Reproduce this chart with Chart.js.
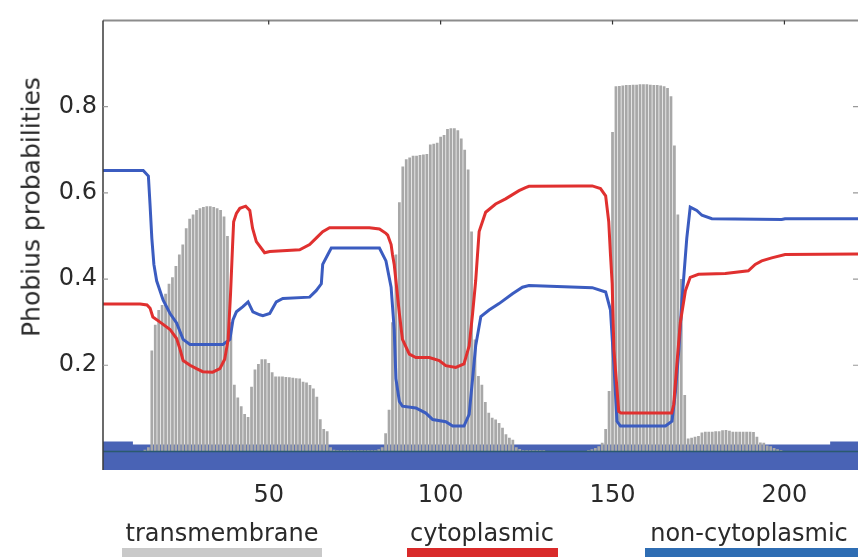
<!DOCTYPE html>
<html>
<head>
<meta charset="utf-8">
<script src="https://cdn.jsdelivr.net/npm/chart.js@4.4.1/dist/chart.umd.min.js"></script>
<style>
  html, body { margin: 0; padding: 0; background: #fff; }
  #wrap { position: relative; width: 858px; height: 557px; overflow: hidden;
          font-family: "DejaVu Sans", sans-serif; color: #2a2a2a; }
  canvas { position: absolute; left: 0; top: 0; }
  .ytitle { position: absolute; left: 31px; top: 207px; font-size: 25px; white-space: nowrap;
            transform: translate(-50%, -50%) rotate(-90deg); }
  .leg { position: absolute; top: 521px; font-size: 24px; line-height: 24px; white-space: nowrap;
         transform: translateX(-50%); }
  .legbar { position: absolute; top: 548px; height: 9px; }
</style>
</head>
<body>
<div id="wrap">
  <canvas id="phobiusChart" width="858" height="557"></canvas>
  <div class="ytitle">Phobius probabilities</div>
  <div class="leg" style="left:222px">transmembrane</div>
  <div class="legbar" style="left:122px;width:200px;background:#c9c9c9"></div>
  <div class="leg" style="left:482px">cytoplasmic</div>
  <div class="legbar" style="left:407px;width:151px;background:#d92a2a"></div>
  <div class="leg" style="left:749px">non-cytoplasmic</div>
  <div class="legbar" style="left:645px;width:213px;background:#2e6db3"></div>
</div>
<script>
// residue range shown (picture is cropped on the right)
const xMin = 1.8;
const xMax = 221.4;
const xTicks = [50, 100, 150, 200];
const yTicks = [0.2, 0.4, 0.6, 0.8];

// transmembrane probability per residue, starting at residue 1
const tmProb = [
  0, 0, 0, 0, 0, 0, 0, 0, 0, 0,
  0, 0, 0, 0.004, 0.01, 0.234, 0.294, 0.328, 0.34, 0.366,
  0.389, 0.404, 0.43, 0.457, 0.48, 0.518, 0.54, 0.55, 0.56, 0.564,
  0.567, 0.569, 0.569, 0.567, 0.564, 0.56, 0.545, 0.5, 0.3, 0.155,
  0.125, 0.105, 0.087, 0.08, 0.15, 0.19, 0.203, 0.214, 0.214, 0.205,
  0.184, 0.174, 0.174, 0.174, 0.173, 0.172, 0.171, 0.17, 0.169, 0.162,
  0.16, 0.154, 0.146, 0.127, 0.075, 0.052, 0.047, 0.01, 0.004, 0.003,
  0.003, 0.003, 0.003, 0.003, 0.003, 0.003, 0.003, 0.003, 0.003, 0.003,
  0.003, 0.005, 0.01, 0.042, 0.097, 0.3, 0.457, 0.578, 0.661, 0.678,
  0.682, 0.686, 0.686, 0.688, 0.689, 0.69, 0.712, 0.714, 0.716, 0.73,
  0.734, 0.748, 0.75, 0.75, 0.745, 0.726, 0.7, 0.654, 0.51, 0.26,
  0.175, 0.155, 0.115, 0.09, 0.078, 0.074, 0.066, 0.055, 0.04, 0.032,
  0.027, 0.01, 0.006, 0.003, 0.003, 0.003, 0.003, 0.003, 0.003, 0.003,
  0, 0, 0, 0, 0, 0, 0, 0, 0, 0,
  0, 0, 0.003, 0.005, 0.008, 0.012, 0.02, 0.052, 0.14, 0.741,
  0.847, 0.848, 0.849, 0.85, 0.85, 0.851, 0.851, 0.852, 0.852, 0.852,
  0.851, 0.85, 0.85, 0.849, 0.847, 0.843, 0.824, 0.71, 0.55, 0.4,
  0.131, 0.03, 0.032, 0.034, 0.036, 0.044, 0.046, 0.046, 0.046, 0.047,
  0.047, 0.049, 0.05, 0.048, 0.046, 0.046, 0.046, 0.046, 0.046, 0.046,
  0.045, 0.034, 0.021, 0.02, 0.014, 0.012, 0.008, 0.005, 0.003, 0,
  0, 0, 0, 0, 0, 0, 0, 0, 0, 0,
  0, 0, 0, 0, 0, 0, 0, 0, 0, 0, 0
];

// cytoplasmic (red) curve
const cytoX = [1.8, 12.6, 14.6, 15.5, 16.3, 18.4, 21.3, 23.2, 24.2, 25.1, 27.1, 29.0, 30.8, 33.7, 35.8, 37.2,
  38.2, 38.9, 39.5, 39.8, 40.6, 41.6, 43.3, 44.5, 45.3, 46.4, 48.8, 50.3, 59.0, 61.9, 63.8, 65.7, 67.7,
  79.3, 82.2, 84.1, 84.6, 85.6, 86.0, 86.5, 87.0, 88.0, 88.9, 90.9, 92.8, 96.7, 99.6, 101.5, 104.4,
  106.8, 108.3, 109.3, 110.2, 111.2, 113.1, 116.0, 118.9, 122.8, 124.7, 125.7, 140.2, 144.1, 146.5,
  148.0, 148.9, 149.4, 149.9, 150.4, 151.8, 152.5, 167.2, 167.8, 168.7, 169.7, 171.2, 172.6, 175.0,
  182.8, 189.5, 191.5, 193.4, 196.3, 200.2, 221.4];
const cytoY = [0.342, 0.342, 0.34, 0.332, 0.312, 0.3, 0.283, 0.262, 0.237, 0.211, 0.2, 0.192, 0.185, 0.184, 0.192, 0.214,
  0.26, 0.366, 0.48, 0.533, 0.552, 0.564, 0.569, 0.559, 0.518, 0.487, 0.461, 0.464, 0.468, 0.48, 0.495, 0.51, 0.519,
  0.519, 0.516, 0.506, 0.502, 0.48, 0.457, 0.434, 0.396, 0.32, 0.26, 0.226, 0.218, 0.218, 0.211, 0.199, 0.195,
  0.203, 0.245, 0.32, 0.396, 0.51, 0.555, 0.574, 0.586, 0.605, 0.612, 0.615, 0.616, 0.616, 0.61,
  0.593, 0.533, 0.457, 0.389, 0.237, 0.093, 0.089, 0.089, 0.109, 0.2, 0.298, 0.373, 0.404, 0.411,
  0.413, 0.419, 0.434, 0.442, 0.449, 0.457, 0.458];

// non-cytoplasmic (blue) curve
const nonCytoX = [1.8, 13.5, 15.0, 15.5, 16.0, 16.6, 17.4, 19.3, 21.3, 23.2, 25.1, 27.1, 36.7, 38.7, 39.6, 40.6,
  42.5, 44.0, 45.4, 47.4, 48.3, 50.3, 52.2, 54.1, 61.9, 63.8, 65.3, 65.7, 67.2, 68.2, 82.2, 84.1, 85.6,
  86.5, 87.0, 88.0, 88.9, 92.8, 95.7, 97.7, 101.5, 103.5, 106.8, 108.3, 109.3, 110.2, 111.7, 114.1,
  117.0, 120.9, 123.8, 125.7, 144.1, 148.0, 149.4, 150.4, 151.3, 152.3, 165.4, 167.3, 168.3, 169.3,
  170.2, 171.6, 172.6, 174.5, 176.0, 178.9, 199.2, 200.2, 221.4];
const nonCytoY = [0.652, 0.652, 0.639, 0.57, 0.495, 0.434, 0.396, 0.351, 0.32, 0.298, 0.26, 0.248, 0.248, 0.26, 0.305, 0.324,
  0.336, 0.347, 0.324, 0.317, 0.315, 0.32, 0.347, 0.355, 0.358, 0.373, 0.389, 0.434, 0.457, 0.472, 0.472, 0.442, 0.381,
  0.283, 0.169, 0.116, 0.105, 0.101, 0.089, 0.074, 0.069, 0.059, 0.059, 0.086, 0.169, 0.245, 0.313, 0.328,
  0.343, 0.366, 0.381, 0.385, 0.38, 0.37, 0.328, 0.2, 0.07, 0.059, 0.059, 0.07, 0.139, 0.237,
  0.351, 0.495, 0.567, 0.559, 0.548, 0.54, 0.538, 0.54, 0.54];

// predicted topology strip along the bottom (step values)
const bandX = [1.8, 10.5, 213.3, 221.4];
const bandY = [0.023, 0.016, 0.023, 0.023];

const pts = (xs, ys) => xs.map((x, i) => ({ x: x, y: ys[i] }));

// frame on top/left plus small inward tick marks
const framePlugin = {
  id: "frame",
  afterDatasetsDraw(chart) {
    const ctx = chart.ctx;
    const a = chart.chartArea;
    const x = chart.scales.x;
    const y = chart.scales.y;
    ctx.save();
    ctx.strokeStyle = "#8c8c8c";
    ctx.lineWidth = 2;
    ctx.beginPath();
    ctx.moveTo(a.left, a.top);
    ctx.lineTo(a.right, a.top);
    ctx.stroke();
    ctx.strokeStyle = "#3a3a3a";
    ctx.lineWidth = 1.5;
    ctx.beginPath();
    ctx.moveTo(a.left, a.top);
    ctx.lineTo(a.left, a.bottom);
    ctx.stroke();
    ctx.strokeStyle = "#333";
    ctx.lineWidth = 1.2;
    ctx.beginPath();
    x.ticks.forEach((t) => {
      const px = x.getPixelForValue(t.value);
      ctx.moveTo(px, a.top);
      ctx.lineTo(px, a.top + 4);
    });
    ctx.stroke();
    ctx.strokeStyle = "#999";
    ctx.beginPath();
    y.ticks.forEach((t) => {
      const py = y.getPixelForValue(t.value);
      ctx.moveTo(a.left, py);
      ctx.lineTo(a.left + 5, py);
      ctx.moveTo(a.right, py);
      ctx.lineTo(a.right - 5, py);
    });
    ctx.stroke();
    ctx.restore();
  },
};

Chart.defaults.font.family = "'DejaVu Sans', sans-serif";

const ctx = document.getElementById("phobiusChart").getContext("2d");
new Chart(ctx, {
  type: "bar",
  data: {
    datasets: [
      {
        type: "line",
        label: "cytoplasmic",
        data: pts(cytoX, cytoY),
        borderColor: "#e0302f",
        borderWidth: 3,
        pointRadius: 0,
        order: 1,
      },
      {
        type: "line",
        label: "non-cytoplasmic",
        data: pts(nonCytoX, nonCytoY),
        borderColor: "#3b5cc0",
        borderWidth: 3,
        pointRadius: 0,
        order: 2,
      },
      {
        type: "line",
        label: "zero",
        data: pts([xMin, xMax], [0, 0]),
        borderColor: "#2b5a6e",
        borderWidth: 1.5,
        pointRadius: 0,
        order: 3,
      },
      {
        type: "bar",
        label: "transmembrane",
        data: tmProb.map((v, i) => ({ x: i + 1, y: v })),
        backgroundColor: "#a8a8a8",
        borderWidth: 0,
        barPercentage: 0.8,
        categoryPercentage: 1,
        order: 4,
      },
      {
        type: "line",
        label: "topology",
        data: pts(bandX, bandY),
        stepped: true,
        fill: "start",
        backgroundColor: "#4963b5",
        borderWidth: 0,
        pointRadius: 0,
        order: 5,
      },
    ],
  },
  options: {
    responsive: false,
    animation: false,
    layout: { padding: { top: 12, right: 0, left: 0, bottom: 0 } },
    plugins: { legend: { display: false }, tooltip: { enabled: false } },
    scales: {
      x: {
        type: "linear",
        min: xMin,
        max: xMax,
        offset: false,
        grid: { display: false, drawTicks: false },
        border: { display: false },
        afterBuildTicks: (scale) => { scale.ticks = xTicks.map((v) => ({ value: v })); },
        afterFit: (scale) => { scale.height = 87; },
        ticks: { color: "#2a2a2a", padding: 11, font: { size: 24 }, maxRotation: 0 },
      },
      y: {
        min: -0.043,
        max: 1.0,
        grid: { display: false, drawTicks: false },
        border: { display: false },
        afterBuildTicks: (scale) => { scale.ticks = yTicks.map((v) => ({ value: v })); },
        afterFit: (scale) => { scale.width = 103; },
        ticks: { color: "#2a2a2a", padding: 6, font: { size: 24 } },
      },
    },
  },
  plugins: [framePlugin],
});
</script>
</body>
</html>
